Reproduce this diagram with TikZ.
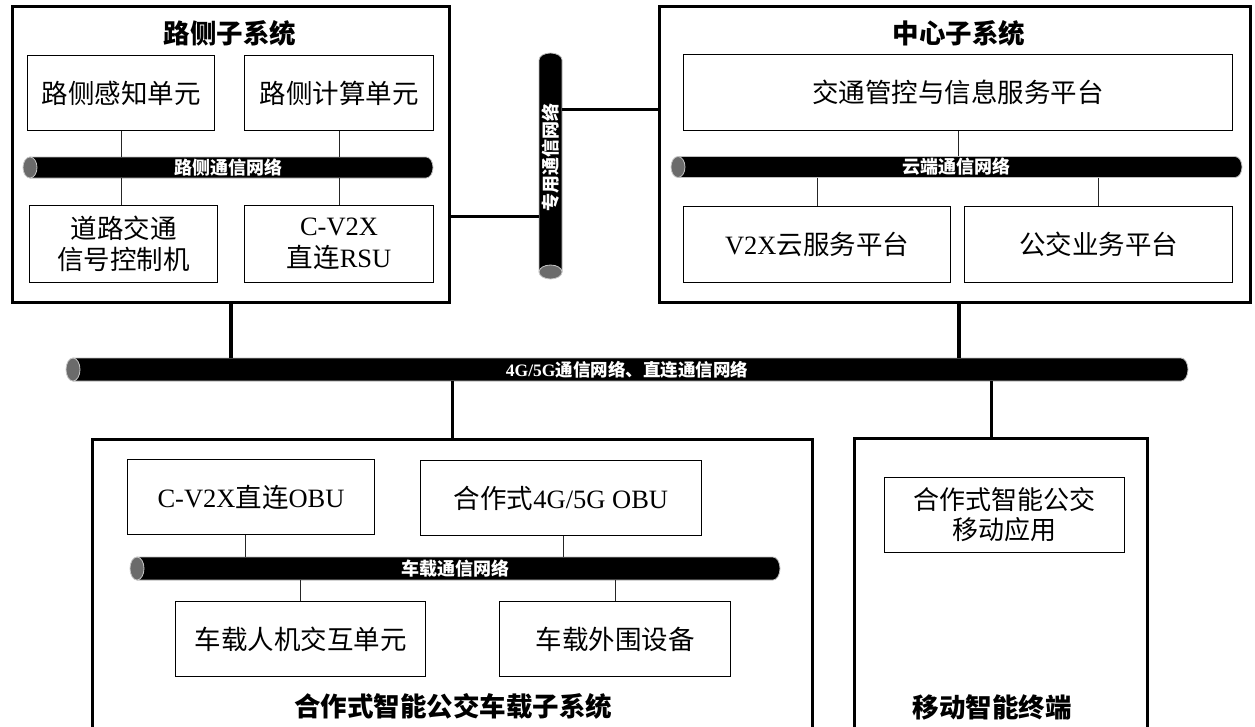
\documentclass[tikz,border=0pt]{standalone}
\usepackage{fontspec}
\setmainfont{Liberation Serif}
\newfontfamily\cjk{Noto Sans CJK SC}
\newcommand\zh[1]{{\cjk #1}}
\tikzset{
  outerbox/.style={draw, line width=3pt, inner sep=0pt, anchor=north west},
  innerbox/.style={draw, line width=1.1pt, inner sep=0pt, anchor=north west, align=center,
     font=\fontsize{26.5}{31.5}\selectfont},
  titletext/.style={font=\fontsize{26.5}{30}\selectfont\bfseries\cjk, inner sep=0pt},
  buslabel/.style={text=white, inner sep=0pt, font=\fontsize{18}{19}\selectfont\bfseries\cjk},
  thinlink/.style={line width=1pt, draw=black!85},
  thicklink/.style={line width=3.2pt, draw=black},
}
\newcommand\hbus[6]{% name, x0 (left cap centre), x1 (right end), yc, ry, label
  \path[draw=black!25, fill=black, line width=0.8pt] (#2,#4-#5) -- (#3-7,#4-#5)
     arc[start angle=-90, end angle=90, x radius=7, y radius=#5] -- (#2,#4+#5) -- cycle;
  \path[draw=black!22, fill=black!58, line width=0.8pt] (#2,#4) ellipse[x radius=7, y radius=#5];
  \node[buslabel, minimum width={(#3-#2+7)*1pt}, minimum height={2*#5*1pt}] (#1) at ({(#2+#3-7)/2},#4) {#6};
}
\begin{document}
\begin{tikzpicture}[x=1pt,y=-1pt]
\useasboundingbox (0,0) rectangle (1255,726);
\clip (0,0) rectangle (1255,726);
\fill[white] (0,0) rectangle (1255,726);

% ---------- outer boxes ----------
\node[outerbox, minimum width=437pt, minimum height=296pt] (road) at (11,5) {};
\node[outerbox, minimum width=591pt, minimum height=296pt] (cen) at (658,5) {};
\node[outerbox, minimum width=720pt, minimum height=302pt] (veh) at (91,438) {};
\node[outerbox, minimum width=293pt, minimum height=303pt] (mob) at (853,437) {};

% ---------- titles ----------
\node[titletext] (troad) at (230,33) {路侧子系统};
\node[titletext] (tcen) at (959,33) {中心子系统};
\node[titletext] (tveh) at (453,706) {合作式智能公交车载子系统};
\node[titletext] (tmob) at (992,707) {移动智能终端};

% ---------- road side ----------
\node[innerbox, minimum width=187pt, minimum height=75pt] (r1) at (27,55) {\zh{路侧感知单元}};
\node[innerbox, minimum width=189pt, minimum height=75pt] (r2) at (244,55) {\zh{路侧计算单元}};
\node[innerbox, minimum width=188pt, minimum height=77pt] (r3) at (29,205) {\zh{道路交通}\\\zh{信号控制机}};
\node[innerbox, minimum width=189pt, minimum height=77pt] (r4) at (244,205) {C-V2X\\\zh{直连}RSU};
\hbus{rbus}{30}{433}{167.5}{10.5}{路侧通信网络}
\draw[thinlink] (r1.south) -- (r1.south |- rbus.north);
\draw[thinlink] (r2.south) -- (r2.south |- rbus.north);
\draw[thinlink] ([xshift=-2pt]r3.north) -- ([xshift=-2pt]r3.north |- rbus.south);
\draw[thinlink] (r4.north) -- (r4.north |- rbus.south);

% ---------- centre ----------
\node[innerbox, minimum width=549pt, minimum height=76pt] (c1) at (683,54) {\zh{交通管控与信息服务平台}};
\node[innerbox, minimum width=267pt, minimum height=76pt] (c2) at (683,206) {V2X\zh{云服务平台}};
\node[innerbox, minimum width=268pt, minimum height=76pt] (c3) at (964,206) {\zh{公交业务平台}};
\hbus{cbus}{678}{1242}{167}{10.5}{云端通信网络}
\draw[thinlink] (c1.south) -- (c1.south |- cbus.north);
\draw[thinlink] (c2.north) -- (c2.north |- cbus.south);
\draw[thinlink] (c3.north) -- (c3.north |- cbus.south);

% ---------- vertical private bus ----------
\path[draw=black!25, fill=black, line width=0.8pt] (539,272) -- (539,60)
   arc[start angle=180, end angle=360, x radius=11.5, y radius=7] -- (562,272) -- cycle;
\path[draw=black!22, fill=black!58, line width=0.8pt] (550.5,272) ellipse[x radius=11.5, y radius=7];
\node[buslabel, rotate=90, minimum width=212pt, minimum height=23pt] (pbus) at (550.5,157) {专用通信网络};

\draw[thicklink] ([yshift=-62pt]road.east) coordinate (ra) -- (ra -| pbus.north);
\draw[thicklink] ([yshift=45pt]cen.west) coordinate (ca) -- (ca -| pbus.south);

% ---------- main bus ----------
\hbus{mbus}{73}{1188}{369.5}{11.5}{\fontsize{17.5}{19}\selectfont\fontspec{Liberation Serif}[BoldFont={Liberation Serif Bold}]\bfseries 4G/5G{\cjk\bfseries 通信网络、直连通信网络}}
\draw[thicklink] (road.south) -- (road.south |- mbus.north);
\draw[thicklink] ([xshift=4pt]cen.south) -- ([xshift=4pt]cen.south |- mbus.north);
\draw[thicklink] (veh.north |- mbus.south) -- (veh.north);
\draw[thicklink] ([xshift=-9.5pt]mob.north |- mbus.south) -- ([xshift=-9.5pt]mob.north);

% ---------- vehicle ----------
\node[innerbox, minimum width=247pt, minimum height=75pt] (v1) at (127,459) {C-V2X\zh{直连}OBU};
\node[innerbox, minimum width=281pt, minimum height=75pt] (v2) at (420,460) {\zh{合作式}4G/5G OBU};
\node[innerbox, minimum width=250pt, minimum height=75pt] (v3) at (175,601) {\zh{车载人机交互单元}};
\node[innerbox, minimum width=231pt, minimum height=75pt] (v4) at (499,601) {\zh{车载外围设备}};
\hbus{vbus}{137}{780}{568.5}{11.5}{车载通信网络}
\draw[thinlink] ([xshift=-6pt]v1.south) -- ([xshift=-6pt]v1.south |- vbus.north);
\draw[thinlink] ([xshift=2.5pt]v2.south) -- ([xshift=2.5pt]v2.south |- vbus.north);
\draw[thinlink] (v3.north) -- (v3.north |- vbus.south);
\draw[thinlink] (v4.north) -- (v4.north |- vbus.south);

% ---------- mobile ----------
\node[innerbox, minimum width=240pt, minimum height=75pt, font=\fontsize{26}{30}\selectfont] (m1) at (884,477) {\zh{合作式智能公交}\\\zh{移动应用}};
\end{tikzpicture}
\end{document}
